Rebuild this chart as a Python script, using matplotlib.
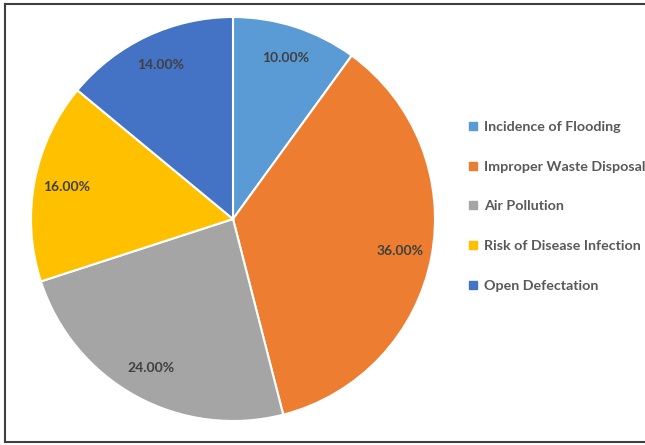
import matplotlib.pyplot as plt
from matplotlib.lines import Line2D

categories = ['Incidence of Flooding', 'Improper Waste Disposal', 'Air Pollution',
              'Risk of Disease Infection', 'Open Defectation']
values = [10, 36, 24, 16, 14]
colors = ['#5B9BD5', '#ED7D31', '#A5A5A5', '#FFC000', '#4472C4']

plt.rcParams['font.family'] = ['Lato', 'DejaVu Sans']

fig = plt.figure(figsize=(6.45, 4.45), dpi=100)
ax = fig.add_axes([31 / 645, 24 / 445, 404 / 645, 404 / 445])

wedges, texts, autotexts = ax.pie(
    values, colors=colors, startangle=90, counterclock=False,
    autopct='%.2f%%', pctdistance=0.84, radius=1,
    wedgeprops=dict(edgecolor='white', linewidth=1.5),
    textprops=dict(color='#404040', fontsize=10, fontweight='bold'))
ax.set_xlim(-1, 1)
ax.set_ylim(-1, 1)
ax.set_aspect('equal')

handles = [Line2D([], [], marker='s', linestyle='', markersize=5.5,
                  markerfacecolor=c, markeredgecolor=c) for c in colors]
leg = fig.legend(handles, categories, loc='upper left',
                 bbox_to_anchor=(467 / 645, 1 - 121 / 445), frameon=False,
                 handlelength=0.8, handletextpad=0.4, labelspacing=1.93,
                 borderaxespad=0, borderpad=0,
                 prop=dict(family=['Lato', 'DejaVu Sans'], size=10.3, weight='bold'))
for t in leg.get_texts():
    t.set_color('#595959')

# outer frame (left, top and bottom sides visible)
fc = '#404040'
fig.add_artist(Line2D([5 / 645, 1], [1 - 4 / 445, 1 - 4 / 445], color=fc, lw=1.5, transform=fig.transFigure))
fig.add_artist(Line2D([5 / 645, 1], [3 / 445, 3 / 445], color=fc, lw=1.5, transform=fig.transFigure))
fig.add_artist(Line2D([5 / 645, 5 / 645], [3 / 445, 1 - 4 / 445], color=fc, lw=1.5, transform=fig.transFigure))

fig.savefig('out.png', dpi=100, facecolor='white')
